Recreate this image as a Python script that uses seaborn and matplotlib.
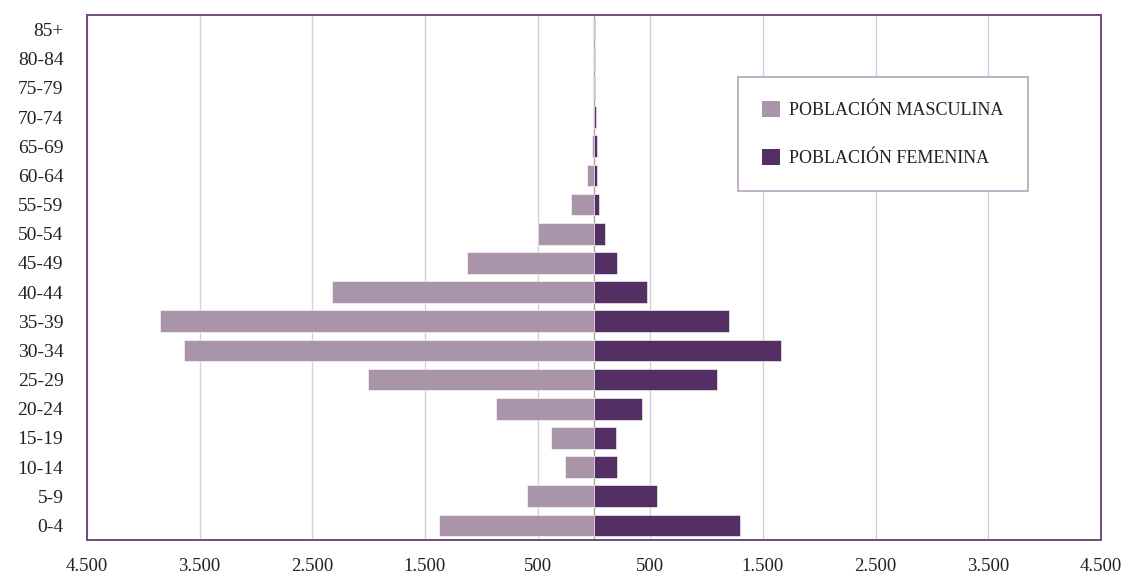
import pandas as pd
import matplotlib.pyplot as plt
import seaborn as sns
from matplotlib.ticker import FuncFormatter, FixedLocator
from matplotlib.patches import Patch

# age groups, bottom (0-4) to top (85+)
grupos = ["0-4", "5-9", "10-14", "15-19", "20-24", "25-29", "30-34", "35-39", "40-44",
          "45-49", "50-54", "55-59", "60-64", "65-69", "70-74", "75-79", "80-84", "85+"]
hombres = [1376, 597, 260, 384, 870, 2006, 3639, 3852, 2325,
           1130, 494, 207, 62, 18, 10, 8, 5, 5]
mujeres = [1293, 562, 207, 193, 426, 1092, 1660, 1198, 473,
           205, 95, 48, 30, 25, 22, 12, 8, 10]
etiquetas = ["POBLACIÓN MASCULINA", "POBLACIÓN FEMENINA"]
xticks = [-4500, -3500, -2500, -1500, -500, 500, 1500, 2500, 3500, 4500]

df = pd.DataFrame({
    "grupo": grupos * 2,
    "valor": [-v for v in hombres] + mujeres,
    "sexo": [etiquetas[0]] * len(grupos) + [etiquetas[1]] * len(grupos),
})

sns.set_style("white")
plt.rcParams["font.family"] = ["Liberation Serif", "DejaVu Serif"]

colors = ["#a994a9", "#542f63"]
fig = plt.figure(figsize=(11.29, 5.77), dpi=100)
ax = fig.add_axes([87 / 1129, 1 - 540 / 577, 1014 / 1129, 525 / 577])

for x in xticks:
    ax.axvline(x, color="#d9cddd", lw=1, zorder=0)
ax.axvline(0, color="#a8a8a8", lw=1, zorder=0)

sns.barplot(data=df, x="valor", y="grupo", hue="sexo", order=grupos[::-1],
            hue_order=etiquetas, palette=colors, saturation=1, dodge=False, width=0.74,
            orient="h", edgecolor="white", linewidth=0.4, ax=ax, legend=False, zorder=2)

ax.set_xlim(-4500, 4500)
ax.xaxis.set_major_locator(FixedLocator(xticks))
ax.xaxis.set_major_formatter(FuncFormatter(lambda v, p: f"{abs(int(v)):,}".replace(",", ".")))
ax.set_xlabel("")
ax.set_ylabel("")
ax.tick_params(axis="x", length=7, color="#d9cddd", width=1, pad=6, labelsize=13.5, labelcolor="#222222")
ax.tick_params(axis="y", length=0, pad=17, labelsize=14, labelcolor="#222222")
for s in ax.spines.values():
    s.set_color("#6e4c7e")
    s.set_linewidth(1.4)

handles = [Patch(facecolor=c, edgecolor="none") for c in colors]
leg = ax.legend(handles, etiquetas, loc="upper left", bbox_to_anchor=(0.642, 0.882),
                frameon=True, fancybox=False, edgecolor="#b8a2bc", framealpha=1,
                fontsize=13, handlelength=0.95, handleheight=0.95, handletextpad=0.55,
                labelspacing=1.65, borderpad=1.35, borderaxespad=0)
leg.get_frame().set_linewidth(1.2)
for t in leg.get_texts():
    t.set_color("#222222")

fig.savefig("out.png", dpi=100)
